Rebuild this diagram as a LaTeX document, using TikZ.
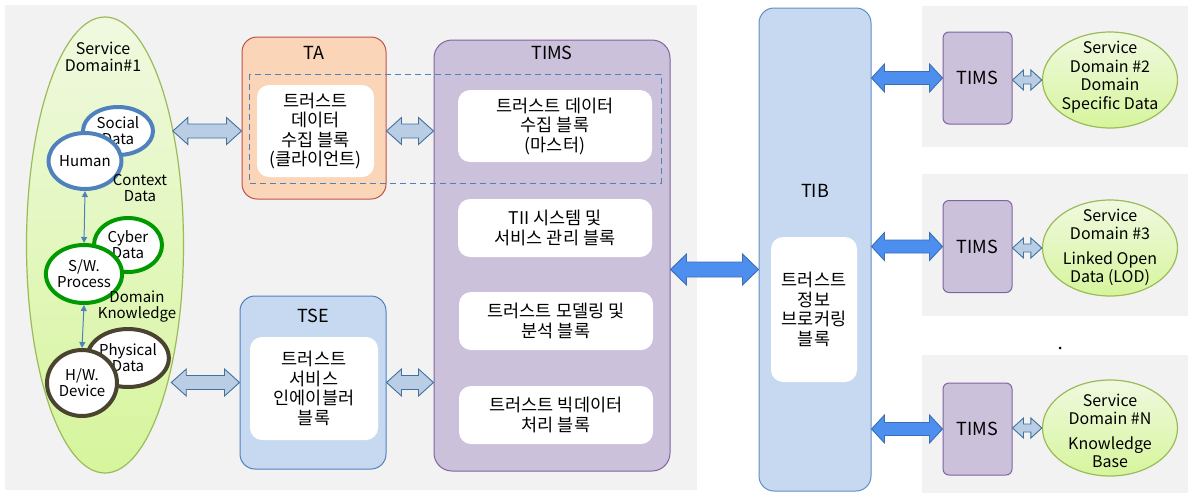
\documentclass[tikz,border=0pt]{standalone}
\usepackage{fontspec}
\setmainfont{Noto Sans CJK KR}
\usetikzlibrary{shapes.geometric,arrows.meta,calc}
\definecolor{bgg}{HTML}{F2F2F2}
\definecolor{tafill}{HTML}{FBD5B7}
\definecolor{taborder}{HTML}{C0504D}
\definecolor{timsfill}{HTML}{CCC1DA}
\definecolor{timsborder}{HTML}{8064A2}
\definecolor{bluefill}{HTML}{C6D9F1}
\definecolor{blueborder}{HTML}{4F81BD}
\definecolor{sdtop}{HTML}{F0F9E0}
\definecolor{sdbot}{HTML}{D6F59C}
\definecolor{sdborder}{HTML}{9BBB59}
\definecolor{hollowfill}{HTML}{B9CDE5}
\definecolor{hollowdraw}{HTML}{41719C}
\definecolor{solidfill}{HTML}{4D8FEF}
\definecolor{soliddraw}{HTML}{3C6EB4}
\definecolor{cblue}{HTML}{4F81BD}
\definecolor{cgreen}{HTML}{009A00}
\definecolor{cbrown}{HTML}{4A4330}
\newcommand\dblarrow[6]{%
  \path[#1] let \p1=#2, \p2=#3 in
    (\x1,\y2) -- (\x1+#6,\y2+#5) -- (\x1+#6,\y2+#4) -- (\x2-#6,\y2+#4)
    -- (\x2-#6,\y2+#5) -- (\x2,\y2) -- (\x2-#6,\y2-#5) -- (\x2-#6,\y2-#4)
    -- (\x1+#6,\y2-#4) -- (\x1+#6,\y2-#5) -- cycle;}
\tikzset{
  txt/.style={font=\fontsize{16}{19}\selectfont},
  kor/.style={font=\fontsize{17.5}{19.5}\selectfont},
  small/.style={font=\fontsize{15}{16}\selectfont},
  ttl/.style={font=\fontsize{18}{20}\selectfont},
  whitebox/.style={rectangle, rounded corners=12pt, fill=white, kor},
  tabox/.style={rectangle, rounded corners=15pt, fill=tafill, draw=taborder, line width=1pt},
  timsbox/.style={rectangle, rounded corners=18pt, fill=timsfill, draw=timsborder, line width=1pt},
  bluebox/.style={rectangle, rounded corners=15pt, fill=bluefill, draw=blueborder, line width=1pt},
  stims/.style={rectangle, rounded corners=6pt, fill=timsfill, draw=timsborder, line width=1pt, minimum width=69, minimum height=92, ttl},
  sdell/.style={ellipse, top color=sdtop, bottom color=sdbot, draw=sdborder, line width=1.2pt},
  inell/.style={ellipse, fill=white, line width=4pt, small},
  hollow/.style={fill=hollowfill, draw=hollowdraw, line width=0.9pt},
  solid/.style={fill=solidfill, draw=soliddraw, line width=0.9pt},
}
\begin{document}
\begin{tikzpicture}[x=1pt,y=-1pt, every node/.style={align=center, inner sep=0pt}]
\useasboundingbox (0,0) rectangle (1188,493);
\fill[white] (0,0) rectangle (1188,493);
% background panels
\fill[bgg] (5,5) rectangle (697,490);
\fill[bgg] (922,6) rectangle (1188,147);
\fill[bgg] (922,174) rectangle (1188,316);
\fill[bgg] (922,355) rectangle (1188,493);

% Service domain 1
\node[sdell, minimum width=157, minimum height=456] (sd1) at (105,245) {};
\node[small, font=\fontsize{16}{17}\selectfont] (sd1t) at (103,57) {Service\\Domain\#1};
\node[inell, draw=cblue, minimum width=70, minimum height=48] (social) at (118,131) {Social\\Data};
\node[inell, draw=cblue, minimum width=70, minimum height=56] (human) at (85,161) {Human};
\node[small] (ctx) at (140,188) {Context\\Data};
\node[inell, draw=cgreen, minimum width=68, minimum height=54] (cyber) at (128,245) {Cyber\\Data};
\node[inell, draw=cgreen, minimum width=72, minimum height=58] (sw) at (84,274) {S/W.\\Process};
\node[small] (dk) at (137,307) {Domain\\Knowledge};
\node[inell, draw=cbrown, minimum width=72, minimum height=58] (phys) at (128,358) {Physical\\Data};
\node[inell, draw=cbrown, minimum width=70, minimum height=66] (hw) at (82,383) {H/W.\\Device};
\draw[cblue, line width=1pt, {Triangle[length=6pt,width=6pt]}-{Triangle[length=6pt,width=6pt]}] (human.south) -- (sw.north);
\draw[cblue, line width=1pt, {Triangle[length=6pt,width=6pt]}-{Triangle[length=6pt,width=6pt]}] (sw.south) -- (hw.north);

% TA
\node[tabox, minimum width=144, minimum height=162] (ta) at (314,118) {};
\node[ttl] (tat) at (314,53) {TA};
% TIMS main
\node[timsbox, minimum width=236, minimum height=431] (tims) at (552,255.5) {};
\node[ttl] (timst) at (552,53) {TIMS};
% dashed group
\draw[blueborder, line width=1pt, dash pattern=on 6pt off 4pt] (249,74) rectangle (661,183);
\node[whitebox, minimum width=117, minimum height=92] (tain) at (315.5,131) {트러스트\\데이터\\수집 블록\\(클라이언트)};
\node[whitebox, minimum width=194, minimum height=72] (tb1) at (555,126) {트러스트 데이터\\수집 블록\\(마스터)};
\node[whitebox, minimum width=194, minimum height=58] (tb2) at (555,228) {TII 시스템 및\\서비스 관리 블록};
\node[whitebox, minimum width=194, minimum height=58] (tb3) at (556,321) {트러스트 모델링 및\\분석 블록};
\node[whitebox, minimum width=194, minimum height=58] (tb4) at (556,415) {트러스트 빅데이터\\처리 블록};

% TSE
\node[bluebox, minimum width=146, minimum height=173] (tse) at (313,382.5) {};
\node[ttl] (tset) at (313,316) {TSE};
\node[whitebox, minimum width=128, minimum height=103] (tsein) at (314,388.5) {트러스트\\서비스\\인에이블러\\블록};

% TIB
\node[bluebox, minimum width=112, minimum height=483, draw=blueborder!90!white] (tib) at (815,249.5) {};
\node[ttl] (tibt) at (815,191) {TIB};
\node[whitebox, minimum width=86, minimum height=145] (tibin) at (814,309.5) {트러스트\\정보\\브로커링\\블록};

% right side
\node[stims] (st1) at (977.5,78) {TIMS};
\node[stims] (st2) at (977.5,246.5) {TIMS};
\node[stims] (st3) at (977.5,429) {TIMS};
\node[sdell, minimum width=135, minimum height=96] (sd2) at (1110,80) {};
\node[sdell, minimum width=135, minimum height=96] (sd3) at (1110,248) {};
\node[sdell, minimum width=135, minimum height=96] (sdn) at (1110,428) {};
\node[txt, font=\fontsize{16}{18.5}\selectfont] (sd2t) at (1110,77) {Service\\Domain \#2\\Domain\\Specific Data};
\node[txt, font=\fontsize{16}{18}\selectfont] (sd3t) at (1110,247) {Service\\Domain \#3\\[7pt]Linked Open\\Data (LOD)};
\node[txt, font=\fontsize{16}{18}\selectfont] (sdnt) at (1110,431) {Service\\Domain \#N\\[7pt]Knowledge\\Base};
\fill (1060,348) circle (1.5);

% arrows
\dblarrow{hollow}{(sd1.60)}{(ta.west |- tain)}{7pt}{13.5pt}{15pt}
\dblarrow{hollow}{(ta.east |- tain)}{(tims.west |- tain)}{7pt}{13.5pt}{15pt}
\dblarrow{hollow}{(sd1.-62)}{(tse.west)}{7pt}{13.5pt}{15pt}
\dblarrow{hollow}{(tse.east)}{(tims.west |- tse)}{7pt}{13.5pt}{15pt}
\dblarrow{solid}{(tims.east)}{($(tib.west)+(0,20)$)}{7.5pt}{15.5pt}{16pt}
\dblarrow{solid}{(tib.east |- st1)}{(st1.west)}{6.5pt}{14pt}{13pt}
\dblarrow{solid}{(tib.east |- st2)}{(st2.west)}{6.5pt}{14pt}{13pt}
\dblarrow{solid}{(tib.east |- st3)}{(st3.west)}{6.5pt}{14pt}{13pt}
\dblarrow{hollow}{(st1.east)}{(sd2.west)}{4pt}{10pt}{11pt}
\dblarrow{hollow}{(st2.east)}{(sd3.west)}{4pt}{10pt}{11pt}
\dblarrow{hollow}{(st3.east)}{(sdn.west)}{4pt}{10pt}{11pt}
\end{tikzpicture}
\end{document}
